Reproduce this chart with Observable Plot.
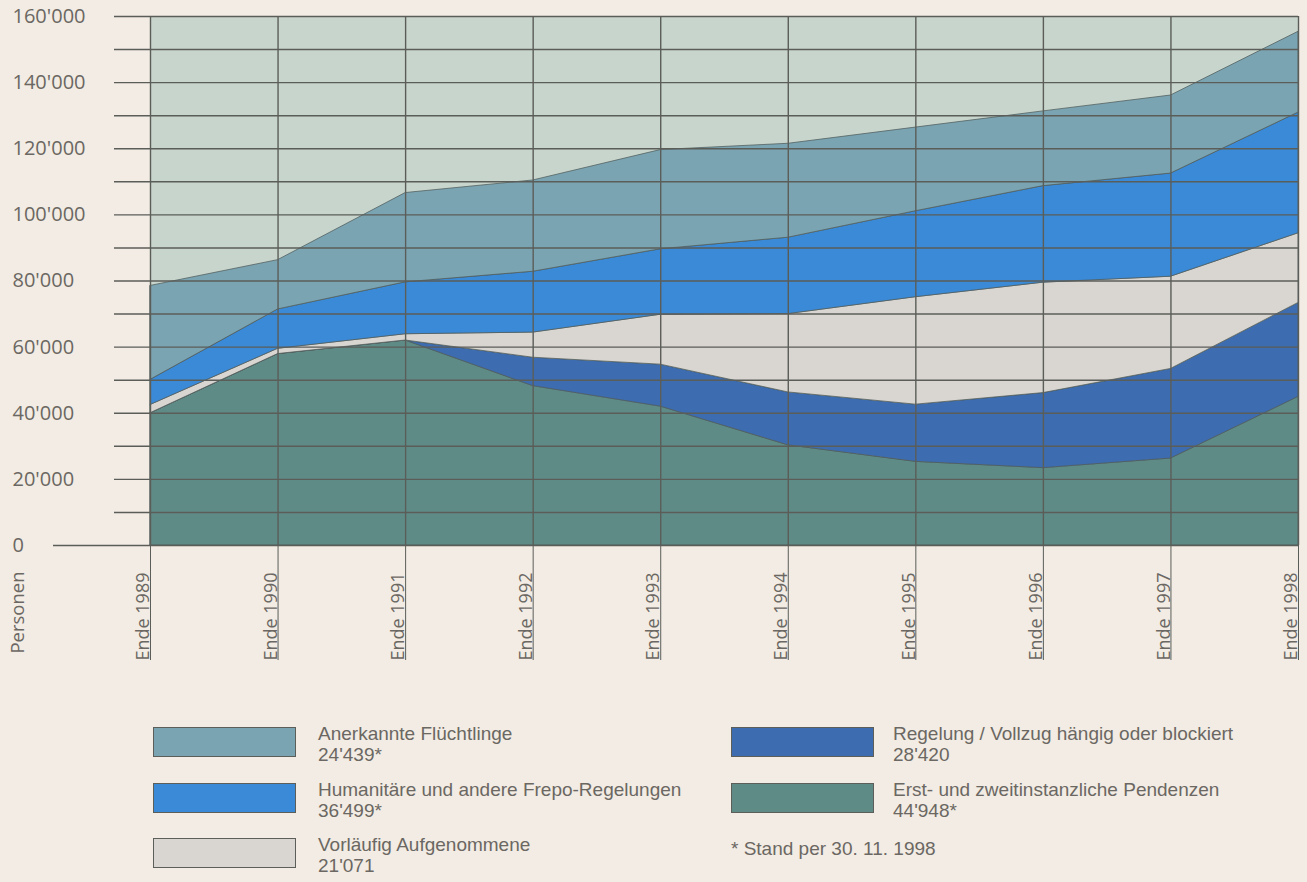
<!DOCTYPE html>
<html>
<head>
<meta charset="utf-8">
<script src="https://cdn.jsdelivr.net/npm/d3@7"></script>
<script src="https://cdn.jsdelivr.net/npm/@observablehq/plot@0.6"></script>
<style>
  html, body { margin: 0; padding: 0; background: #f2ece4; }
  body { width: 1307px; height: 882px; overflow: hidden; font-family: "Open Sans", "Noto Sans", sans-serif; color: #6b6762; }
  #wrap { position: relative; width: 1307px; height: 882px; }
  #chart svg { display: block; }
  #legend { position: absolute; left: 0; top: 0; width: 1307px; height: 882px; pointer-events: none; }
  .sw { position: absolute; width: 143px; height: 30px; border: 1.5px solid #5c5e5a; box-sizing: border-box; }
  .lt { position: absolute; font-family: "Liberation Sans", Arial, sans-serif; font-size: 19px; line-height: 21px; color: #6b6762; white-space: nowrap; }
</style>
</head>
<body>
<div id="wrap">
  <div id="chart"></div>
  <div id="legend"></div>
</div>
<script>
// ---- data ----
const years = [1989, 1990, 1991, 1992, 1993, 1994, 1995, 1996, 1997, 1998];
const seriesNames = [
  "Erst- und zweitinstanzliche Pendenzen",
  "Regelung / Vollzug hängig oder blockiert",
  "Vorläufig Aufgenommene",
  "Humanitäre und andere Frepo-Regelungen",
  "Anerkannte Flüchtlinge"
];
const erst       = [40000, 57900, 62000, 48200, 42000, 30300, 25300, 23400, 26300, 44948];
const regelung   = [0,     0,     0,     8600,  12700, 16000, 17300, 22700, 27100, 28420];
const vorlaeufig = [2500,  1600,  1900,  7600,  15100, 23700, 32500, 33400, 27900, 21071];
const humanitaer = [7600,  11900, 15700, 18400, 19800, 23100, 26000, 29200, 31200, 36499];
const anerkannt  = [28400, 14900, 27000, 27600, 30000, 28400, 25300, 22600, 23600, 24439];
const seriesColors = ["#5f8b87", "#3d6cb0", "#d9d5d1", "#3b8ad8", "#7ba4b3"];
const yLabelTicks = [0, 20000, 40000, 60000, 80000, 100000, 120000, 140000, 160000];
const yGridTicks = d3.range(10000, 160001, 10000);
const legendLabels = [
  {name: "Anerkannte Flüchtlinge", value: "24'439*"},
  {name: "Humanitäre und andere Frepo-Regelungen", value: "36'499*"},
  {name: "Vorläufig Aufgenommene", value: "21'071"},
  {name: "Regelung / Vollzug hängig oder blockiert", value: "28'420"},
  {name: "Erst- und zweitinstanzliche Pendenzen", value: "44'948*"}
];
const footnote = "* Stand per 30. 11. 1998";
const yTitle = "Personen";

// ---- table ----
const seriesValues = [erst, regelung, vorlaeufig, humanitaer, anerkannt];
const table = [];
seriesNames.forEach((s, i) => years.forEach((yr, j) => table.push({year: yr, series: s, value: seriesValues[i][j]})));

const fmt = d => d3.format(",")(d).replace(/,/g, "'");
const gridColor = "#5b5d58";
const textColor = "#6b6762";

const chart = Plot.plot({
  width: 1307,
  height: 672,
  marginLeft: 150,
  marginRight: 9,
  marginTop: 16,
  marginBottom: 127,
  style: {fontFamily: "'Open Sans', 'Noto Sans', sans-serif", fontSize: "19px", color: textColor, background: "transparent"},
  x: {domain: [1989, 1998], axis: null},
  y: {domain: [0, 160000], axis: null},
  color: {domain: seriesNames, range: seriesColors},
  marks: [
    Plot.frame({fill: "#c8d5cc", stroke: null}),
    Plot.areaY(table, {x: "year", y: "value", fill: "series", order: seriesNames, stroke: "#4f5c5b", strokeWidth: 1, strokeOpacity: 0.75}),
    Plot.gridY({ticks: yGridTicks, stroke: gridColor, strokeOpacity: 1, strokeWidth: 1.4}),
    Plot.gridX({ticks: years, stroke: gridColor, strokeOpacity: 1, strokeWidth: 1.4}),
    // horizontal gridline extensions left of the frame
    Plot.axisY({ticks: yGridTicks, tickSize: 36, tickFormat: () => "", label: null, stroke: gridColor, strokeWidth: 1.4}),
    // baseline extension
    Plot.axisY({ticks: [0], tickSize: 97, tickFormat: () => "", label: null, stroke: gridColor, strokeWidth: 1.4}),
    Plot.ruleY([0], {stroke: gridColor, strokeWidth: 1.4}),
    // y labels
    Plot.axisY({ticks: yLabelTicks, tickSize: 0, tickPadding: 138, textAnchor: "start", tickFormat: fmt, label: null, fill: textColor, fontSize: 20}),
    // long x ticks below the plot
    Plot.axisX({ticks: years, tickSize: 115, tickFormat: () => "", label: null, stroke: gridColor, strokeWidth: 1}),
    // x labels
    Plot.axisX({ticks: years, tickSize: 0, tickPadding: 27, tickRotate: -90, dx: -7, tickFormat: d => "Ende " + d, label: null, fill: textColor, fontSize: 18}),
    Plot.text([yTitle], {frameAnchor: "bottom-left", text: d => d, rotate: -90, textAnchor: "middle", lineAnchor: "middle", dx: -132, dy: 67, fill: textColor, fontSize: 18.5})
  ]
});
document.getElementById("chart").appendChild(chart);

// ---- legend (HTML, below the SVG) ----
const leg = document.getElementById("legend");
const colorOf = name => seriesColors[seriesNames.indexOf(name)];
const positions = [
  {sx: 153, tx: 318, top: 727},
  {sx: 153, tx: 318, top: 783},
  {sx: 153, tx: 318, top: 838},
  {sx: 731, tx: 893, top: 727},
  {sx: 731, tx: 893, top: 783}
];
function addText(txt, left, top) {
  const t = document.createElement("div");
  t.className = "lt";
  t.style.left = left + "px";
  t.style.top = top + "px";
  t.textContent = txt;
  leg.appendChild(t);
}
legendLabels.forEach((d, i) => {
  const p = positions[i];
  const sw = document.createElement("div");
  sw.className = "sw";
  sw.style.left = p.sx + "px";
  sw.style.top = p.top + "px";
  sw.style.background = colorOf(d.name);
  leg.appendChild(sw);
  addText(d.name, p.tx, p.top - 4);
  addText(d.value, p.tx, p.top + 17);
});
addText(footnote, 731, 838);
</script>
</body>
</html>
